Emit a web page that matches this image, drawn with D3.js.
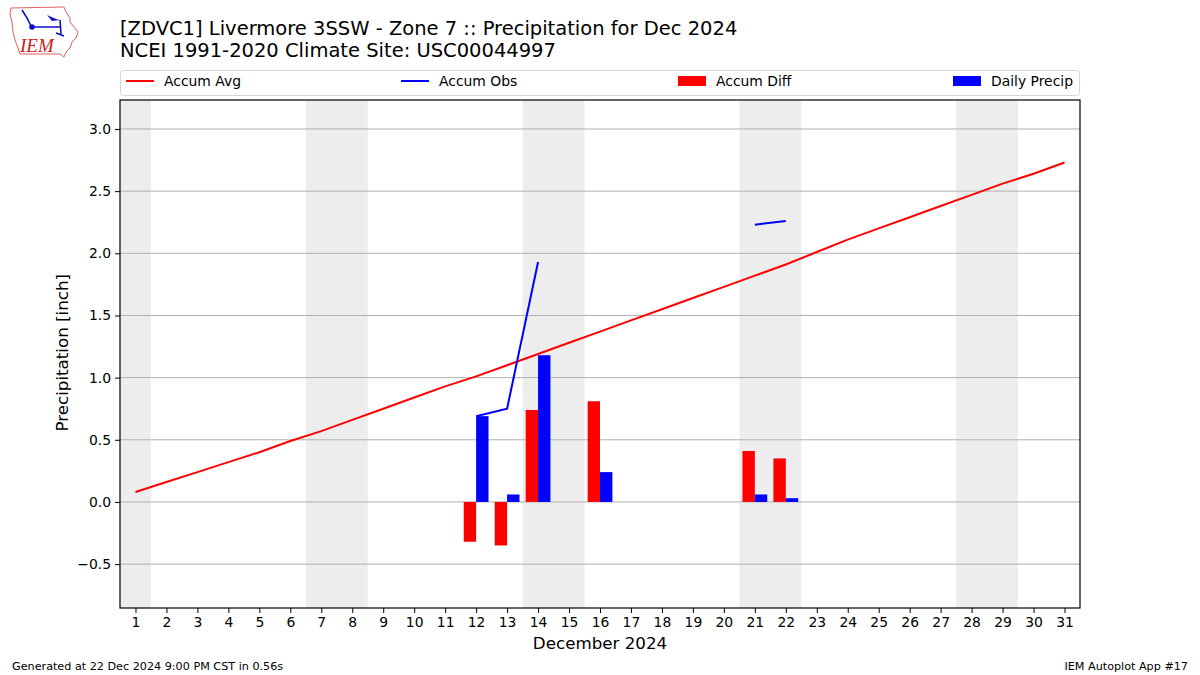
<!DOCTYPE html>
<html>
<head>
<meta charset="utf-8">
<script src="https://cdn.jsdelivr.net/npm/d3@7"></script>
<style>
  body { margin: 0; background: #fff; }
  svg { font-family: "DejaVu Sans", sans-serif; }
</style>
</head>
<body>
<div id="chart"></div>
<script>
// chart data
const days = d3.range(1, 32);
const accumAvg = [0.08, 0.16, 0.24, 0.32, 0.40, 0.49, 0.57, 0.66, 0.75, 0.84, 0.93,
  1.01, 1.10, 1.19, 1.28, 1.37, 1.46, 1.55, 1.64, 1.73, 1.82, 1.91, 2.01, 2.11,
  2.20, 2.29, 2.38, 2.47, 2.56, 2.64, 2.73];
// null = no observation
const accumObs = [null, null, null, null, null, null, null, null, null, null, null,
  0.69, 0.75, 1.93, null, null, null, null, null, null, 2.23, 2.26,
  null, null, null, null, null, null, null, null, null];
const precipDays = [12, 13, 14, 16, 21, 22];
const dailyPrecip = [0.69, 0.06, 1.18, 0.24, 0.06, 0.03];
const accumDiff = [-0.32, -0.35, 0.74, 0.81, 0.41, 0.35];
// weekend spans (start day, end day)
const weekends = [[1, 1], [7, 8], [14, 15], [21, 22], [28, 29]];
const yTicks = [-0.5, 0, 0.5, 1.0, 1.5, 2.0, 2.5, 3.0];

const width = 1200;
const height = 675;
const margin = { top: 100, right: 120, bottom: 67, left: 120 };

const svg = d3.select('#chart')
  .append('svg')
  .attr('width', width)
  .attr('height', height);

const x = d3.scaleLinear()
  .domain([0.5, 31.5])
  .range([margin.left, width - margin.right]);

const y = d3.scaleLinear()
  .domain([-0.853, 3.233])
  .range([height - margin.bottom, margin.top]);

// weekend shading
svg.append('g')
  .selectAll('rect')
  .data(weekends)
  .enter()
  .append('rect')
  .attr('x', (d) => x(d[0] - 0.5))
  .attr('y', margin.top)
  .attr('width', (d) => x(d[1] + 0.5) - x(d[0] - 0.5))
  .attr('height', y.range()[0] - margin.top)
  .attr('fill', '#ededed');

// grid
svg.append('g')
  .selectAll('line')
  .data(yTicks)
  .enter()
  .append('line')
  .attr('x1', x.range()[0])
  .attr('x2', x.range()[1])
  .attr('y1', (d) => y(d))
  .attr('y2', (d) => y(d))
  .attr('stroke', '#b0b0b0')
  .attr('stroke-width', 1);

// bars
const bw = 0.4;
svg.append('g')
  .selectAll('rect')
  .data(precipDays)
  .enter()
  .append('rect')
  .attr('x', (d) => x(d - bw))
  .attr('width', (d) => x(d) - x(d - bw))
  .attr('y', (d, i) => y(Math.max(0, accumDiff[i])))
  .attr('height', (d, i) => Math.abs(y(accumDiff[i]) - y(0)))
  .attr('fill', '#ff0000');

svg.append('g')
  .selectAll('rect')
  .data(precipDays)
  .enter()
  .append('rect')
  .attr('x', (d) => x(d))
  .attr('width', (d) => x(d + bw) - x(d))
  .attr('y', (d, i) => y(dailyPrecip[i]))
  .attr('height', (d, i) => y(0) - y(dailyPrecip[i]))
  .attr('fill', '#0000ff');

// lines
const line = d3.line()
  .defined((d) => d[1] !== null)
  .x((d) => x(d[0]))
  .y((d) => y(d[1]));

svg.append('path')
  .datum(days.map((d, i) => [d, accumAvg[i]]))
  .attr('d', line)
  .attr('fill', 'none')
  .attr('stroke', '#ff0000')
  .attr('stroke-width', 2);

svg.append('path')
  .datum(days.map((d, i) => [d, accumObs[i]]))
  .attr('d', line)
  .attr('fill', 'none')
  .attr('stroke', '#0000ff')
  .attr('stroke-width', 2);

// frame
svg.append('rect')
  .attr('x', x.range()[0])
  .attr('y', margin.top)
  .attr('width', x.range()[1] - x.range()[0])
  .attr('height', y.range()[0] - margin.top)
  .attr('fill', 'none')
  .attr('stroke', '#000')
  .attr('stroke-width', 1.2);

// axes
const xAxis = d3.axisBottom(x)
  .tickValues(days)
  .tickFormat(d3.format('d'))
  .tickSize(5)
  .tickPadding(4);

const gx = svg.append('g')
  .attr('transform', `translate(0, ${y.range()[0]})`)
  .call(xAxis);

const yAxis = d3.axisLeft(y)
  .tickValues(yTicks)
  .tickFormat((d) => d3.format('.1f')(d).replace('-', '\u2212'))
  .tickSize(5)
  .tickPadding(4);

const gy = svg.append('g')
  .attr('transform', `translate(${x.range()[0]}, 0)`)
  .call(yAxis);

[gx, gy].forEach((g) => {
  g.select('.domain').remove();
  g.selectAll('text').attr('font-size', 13.9).attr('font-family', 'DejaVu Sans').attr('fill', '#000');
  g.selectAll('line').attr('stroke', '#000');
});

svg.append('text')
  .attr('x', (x.range()[0] + x.range()[1]) / 2)
  .attr('y', 649)
  .attr('text-anchor', 'middle')
  .attr('font-size', 16.7)
  .text('December 2024');

svg.append('text')
  .attr('transform', `translate(68, ${y(1.2)}) rotate(-90)`)
  .attr('text-anchor', 'middle')
  .attr('font-size', 16.7)
  .text('Precipitation [inch]');

// titles
svg.append('text')
  .attr('x', 120)
  .attr('y', 35)
  .attr('font-size', 19.5)
  .text('[ZDVC1] Livermore 3SSW - Zone 7 :: Precipitation for Dec 2024');

svg.append('text')
  .attr('x', 120)
  .attr('y', 57)
  .attr('font-size', 19.5)
  .text('NCEI 1991-2020 Climate Site: USC00044997');

// legend
const legend = svg.append('g');
legend.append('rect')
  .attr('x', 120.5)
  .attr('y', 70.5)
  .attr('width', 959)
  .attr('height', 25)
  .attr('rx', 3)
  .attr('fill', '#fff')
  .attr('stroke', '#d6d6d6');

const legendItems = [
  { label: 'Accum Avg', color: '#ff0000', type: 'line', x: 126 },
  { label: 'Accum Obs', color: '#0000ff', type: 'line', x: 401 },
  { label: 'Accum Diff', color: '#ff0000', type: 'rect', x: 678 },
  { label: 'Daily Precip', color: '#0000ff', type: 'rect', x: 953 }
];

legendItems.forEach((it) => {
  if (it.type === 'line') {
    legend.append('line')
      .attr('x1', it.x).attr('x2', it.x + 28)
      .attr('y1', 81).attr('y2', 81)
      .attr('stroke', it.color)
      .attr('stroke-width', 2);
  } else {
    legend.append('rect')
      .attr('x', it.x).attr('y', 76)
      .attr('width', 28).attr('height', 10)
      .attr('fill', it.color);
  }
  legend.append('text')
    .attr('x', it.x + 38)
    .attr('y', 86)
    .attr('font-size', 13.9)
    .text(it.label);
});

// footer
svg.append('text')
  .attr('x', 12)
  .attr('y', 670)
  .attr('font-size', 11.2)
  .text('Generated at 22 Dec 2024 9:00 PM CST in 0.56s');

svg.append('text')
  .attr('x', 1188)
  .attr('y', 670)
  .attr('text-anchor', 'end')
  .attr('font-size', 11.2)
  .text('IEM Autoplot App #17');

// logo (rough Iowa outline)
const logo = svg.append('g');
logo.append('path')
  .attr('d', 'M11,8 L64,7 L66,12 L70,18 L70,22 L74,27 L78,32 L76,38 L72,42 L70,48 L66,52 L64,57 L60,54 L20,54 L18,48 L15,40 L13,32 L12,22 L10,14 Z')
  .attr('fill', 'none')
  .attr('stroke', '#e06060')
  .attr('stroke-width', 1);
logo.append('path')
  .attr('d', 'M22,10 L27,18 L31,26 M31,27 L60,27 M60,20 L61,34 M56,33 L64,36')
  .attr('fill', 'none')
  .attr('stroke', '#1010cc')
  .attr('stroke-width', 1.6);
logo.append('circle')
  .attr('cx', 32).attr('cy', 27).attr('r', 2.8)
  .attr('fill', '#1010cc');
logo.append('path')
  .attr('d', 'M47,15 L56,19 L60,20 L52,21 Z')
  .attr('fill', '#1010cc');
logo.append('text')
  .attr('x', 20)
  .attr('y', 52)
  .attr('font-family', 'Liberation Serif, serif')
  .attr('font-style', 'italic')
  .attr('font-size', 19)
  .attr('fill', '#cc2020')
  .text('IEM');
</script>
</body>
</html>
